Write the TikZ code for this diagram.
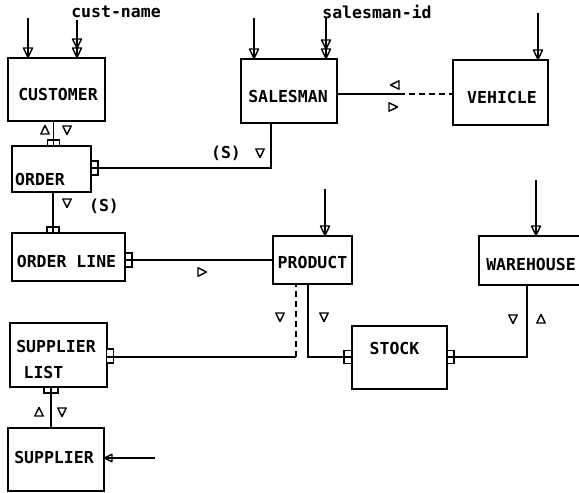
\documentclass[tikz,border=0pt]{standalone}
\usepackage{fontspec}
\setmonofont{DejaVu Sans Mono}
\usetikzlibrary{arrows.meta}
\begin{document}
\begin{tikzpicture}[x=1pt,y=-1pt,
  box/.style={draw, line width=1.6pt, inner sep=0pt, outer sep=0pt},
  lbl/.style={font=\ttfamily\bfseries\fontsize{16.5}{16.5}\selectfont, inner sep=0pt},
  conn/.style={line width=1.5pt},
  dsh/.style={line width=1.5pt, dash pattern=on 6pt off 4pt},
  fork/.style={draw, line width=1.3pt, fill=white, inner sep=0pt, outer sep=0pt},
  headone/.pic={\draw[line width=1.4pt,line join=round] (-4.5,-10) -- (4.5,-10) -- (0,-0.5) -- cycle;},
  headtwo/.pic={\draw[line width=1.4pt,line join=round] (-4.5,-10) -- (4.5,-10) -- (0,-0.5) -- cycle
      (-4.5,-19) -- (4.5,-19) -- (0,-10) -- cycle;},
  headleft/.pic={\draw[line width=1.4pt,line join=round] (0.5,0) -- (8,-3.8) -- (8,3.8) -- cycle;},
  tdown/.pic={\draw[line width=1.4pt,line join=round] (-4.2,-4) -- (4.2,-4) -- (0,4.5) -- cycle;},
  tup/.pic={\draw[line width=1.4pt,line join=round] (-4.2,4) -- (4.2,4) -- (0,-4.5) -- cycle;},
  tright/.pic={\draw[line width=1.4pt,line join=round] (-4,-4.2) -- (-4,4.2) -- (4.5,0) -- cycle;},
  tleft/.pic={\draw[line width=1.4pt,line join=round] (4,-4.2) -- (4,4.2) -- (-4.5,0) -- cycle;}
]
\useasboundingbox (0,0) rectangle (579,493);
\clip (0,0) rectangle (579,493);

% boxes
\node[box, minimum width=97pt, minimum height=63pt] (cust) at (56.5,89.5) {};
\node[box, minimum width=79pt, minimum height=46pt] (order) at (51.5,169) {};
\node[box, minimum width=113pt, minimum height=48pt] (ordline) at (68.5,257) {};
\node[box, minimum width=97pt, minimum height=64pt] (suplist) at (58.5,355) {};
\node[box, minimum width=96pt, minimum height=63pt] (supplier) at (56,459.5) {};
\node[box, minimum width=96pt, minimum height=64pt] (salesman) at (289,91) {};
\node[box, minimum width=95pt, minimum height=65pt] (vehicle) at (500.5,92.5) {};
\node[box, minimum width=79pt, minimum height=48pt] (product) at (312.5,260) {};
\node[box, minimum width=106pt, minimum height=49pt] (warehouse) at (532,260.5) {};
\node[box, minimum width=95pt, minimum height=63pt] (stock) at (399.5,357.5) {};

% box labels
\node[lbl] (tcust) at (58,94) {CUSTOMER};
\node[lbl] (tsales) at (288,96) {SALESMAN};
\node[lbl] (tveh) at (502,97) {VEHICLE};
\node[lbl, anchor=west] (tord) at (15,179) {ORDER};
\node[lbl] (tordl) at (66.5,261) {ORDER LINE};
\node[lbl] (tprod) at (312.5,262) {PRODUCT};
\node[lbl] (tware) at (531,264) {WAREHOUSE};
\node[lbl] (tstock) at (394.5,348) {STOCK};
\node[lbl] (tsl1) at (56,346) {SUPPLIER};
\node[lbl] (tsl2) at (43.5,372) {LIST};
\node[lbl] (tsup) at (54,457) {SUPPLIER};
\node[lbl] (tcn) at (116,12) {cust-name};
\node[lbl] (tsid) at (377,12) {salesman-id};
\node[lbl] (ts1) at (226,153) {(S)};
\node[lbl] (ts2) at (104,206) {(S)};

% input arrows
\coordinate (a1) at (28,18);
\coordinate (a2) at (77,20);
\coordinate (a3) at (254,18);
\coordinate (a4) at (326,18);
\coordinate (a5) at (538,13);
\coordinate (a6) at (325,189);
\coordinate (a7) at (536,180);
\coordinate (a8) at (155,458);
\draw[conn] (a1) -- (cust.north -| a1);       \pic at (cust.north -| a1) {headone};
\draw[conn] (a2) -- (cust.north -| a2);       \pic at (cust.north -| a2) {headtwo};
\draw[conn] (a3) -- (salesman.north -| a3);   \pic at (salesman.north -| a3) {headone};
\draw[conn] (a4) -- (salesman.north -| a4);   \pic at (salesman.north -| a4) {headtwo};
\draw[conn] (a5) -- (vehicle.north -| a5);    \pic at (vehicle.north -| a5) {headone};
\draw[conn] (a6) -- (product.north -| a6);    \pic at (product.north -| a6) {headone};
\draw[conn] (a7) -- (warehouse.north -| a7);  \pic at (warehouse.north -| a7) {headone};
\draw[conn] (a8) -- (supplier.east |- a8);    \pic at (supplier.east |- a8) {headleft};

% customer - order
\node[fork, minimum width=12pt, minimum height=6pt] (f1) at (53.5,143) {};
\draw[conn] ([xshift=-3pt]cust.south) -- (f1.south);
\pic at (45,130) {tup};
\pic at (67,130) {tdown};

% order - salesman
\node[fork, minimum width=7pt, minimum height=14pt] (b1) at (94.5,168) {};
\draw[conn] (order.east |- b1) -- (b1.east) -| ([xshift=-18pt]salesman.south);
\pic at (260,153) {tdown};

% order - order line
\node[fork, minimum width=12pt, minimum height=6pt] (f2) at (53,230) {};
\draw[conn] ([xshift=1.5pt]order.south) -- (f2.south);
\pic at (67,203) {tdown};

% order line - product
\node[fork, minimum width=7pt, minimum height=14pt] (b2) at (128.5,260) {};
\draw[conn] (ordline.east |- b2) -- (product.west |- b2);
\pic at (202,272) {tright};

% salesman - vehicle
\coordinate (sv) at (399,94);
\draw[conn] (salesman.east |- sv) -- (sv);
\draw[dsh] (sv) -- (vehicle.west |- sv);
\pic at (395,85) {tleft};
\pic at (393,107) {tright};

% supplier list - product (dashed)
\node[fork, minimum width=7pt, minimum height=14pt] (b3) at (110,356) {};
\coordinate (dj) at (296,357);
\draw[conn] (suplist.east |- dj) -- (dj);
\draw[dsh] (dj) -- (product.south -| dj);
\pic at (280,317) {tdown};

% product - stock
\node[fork, minimum width=8pt, minimum height=13pt] (b4) at (348,357) {};
\draw[conn] ([xshift=-4.5pt]product.south) |- (stock.west |- b4);
\pic at (324,317) {tdown};

% stock - warehouse
\node[fork, minimum width=7pt, minimum height=13pt] (b5) at (450.5,357) {};
\draw[conn] (stock.east |- b5) -| ([xshift=-5pt]warehouse.south);
\pic at (513,319) {tdown};
\pic at (541,319) {tup};

% supplier list - supplier
\node[fork, minimum width=14pt, minimum height=6pt] (f3) at (51,390) {};
\draw[conn] (f3.north) -- ([xshift=-5pt]supplier.north);
\pic at (39,412) {tup};
\pic at (62,412) {tdown};
\end{tikzpicture}
\end{document}
